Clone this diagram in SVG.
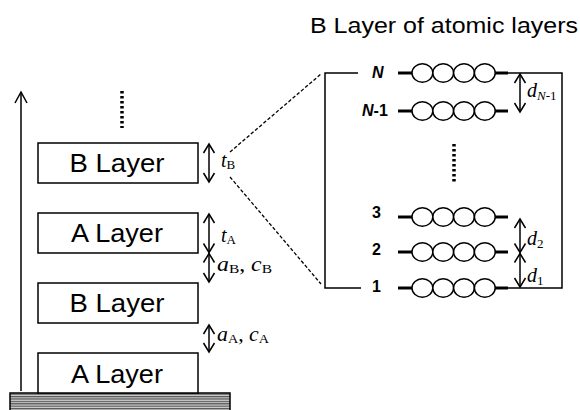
<svg xmlns="http://www.w3.org/2000/svg" xmlns:xlink="http://www.w3.org/1999/xlink" width="580" height="410" viewBox="0 0 580 410">
<style>
.ln{fill:none;stroke:#000;stroke-width:1.5}
.box{fill:#fff;stroke:#000;stroke-width:1.5}
.dash{fill:none;stroke:#000;stroke-width:1.3;stroke-dasharray:3.5 2}
.dots{fill:none;stroke:#000;stroke-width:3.5;stroke-dasharray:2.6 2.4}
.dbl{fill:none;stroke:#000;stroke-width:1.5;marker-start:url(#ah);marker-end:url(#ah)}
.lbl{font-family:"Liberation Sans",Arial,sans-serif;font-size:25px;fill:#000}
.ttl{font-family:"Liberation Sans",Arial,sans-serif;font-size:22px;fill:#000}
.num{font-family:"Liberation Sans",Arial,sans-serif;font-size:16px;font-weight:bold;fill:#000}
.m{font-family:"Liberation Serif","Times New Roman",serif;font-size:20px;fill:#000}
.it{font-style:italic}
.sub{font-size:13px}
.thick{stroke:#000;stroke-width:3}
.bead{fill:#fff;stroke:#000;stroke-width:1.5}
</style>
<defs>
<marker id="ah" markerUnits="userSpaceOnUse" viewBox="-11 -7 13 14" refX="0" refY="0" markerWidth="13" markerHeight="14" orient="auto-start-reverse">
<path d="M-9,-5.5 L0,0 L-9,5.5" fill="none" stroke="#000" stroke-width="1.5"/>
</marker>
<pattern id="stripes" patternUnits="userSpaceOnUse" width="8" height="2.4">
<rect x="0" y="0" width="8" height="2.4" fill="#d0d0d0"/>
<rect x="0" y="0" width="8" height="1.2" fill="#555"/>
</pattern>
<g id="chain">
<line class="thick" x1="398" y1="0" x2="412" y2="0"/>
<line class="thick" x1="495" y1="0" x2="508" y2="0"/>
<ellipse class="bead" cx="422.4" cy="0" rx="10.4" ry="9.2"/>
<ellipse class="bead" cx="443.2" cy="0" rx="10.4" ry="9.2"/>
<ellipse class="bead" cx="464" cy="0" rx="10.4" ry="9.2"/>
<ellipse class="bead" cx="484.8" cy="0" rx="10.4" ry="9.2"/>
</g>
</defs>
<rect width="580" height="410" fill="#fff"/>

<text id="title" class="ttl" x="310" y="33" textLength="268" lengthAdjust="spacingAndGlyphs">B Layer of atomic layers</text>

<g id="substrate">
<rect x="10" y="393" width="220" height="20" fill="url(#stripes)" stroke="#000" stroke-width="1.5"/>
</g>

<g id="growth-axis">
<line class="ln" x1="21" y1="391" x2="21" y2="93"/>
<path class="ln" d="M15,103 L21,92 L27,103"/>
</g>

<g id="layer-B-top">
<rect class="box" x="38" y="143" width="160" height="40"/>
<text class="lbl" x="117" y="172" text-anchor="middle" textLength="95" lengthAdjust="spacingAndGlyphs">B Layer</text>
</g>
<g id="layer-A-2">
<rect class="box" x="38" y="213" width="160" height="40"/>
<text class="lbl" x="117" y="242" text-anchor="middle" textLength="92" lengthAdjust="spacingAndGlyphs">A Layer</text>
</g>
<g id="layer-B-1">
<rect class="box" x="38" y="283" width="160" height="40"/>
<text class="lbl" x="117" y="312" text-anchor="middle" textLength="95" lengthAdjust="spacingAndGlyphs">B Layer</text>
</g>
<g id="layer-A-1">
<rect class="box" x="38" y="353" width="160" height="40"/>
<text class="lbl" x="117" y="383" text-anchor="middle" textLength="92" lengthAdjust="spacingAndGlyphs">A Layer</text>
</g>

<g id="left-dots">
<line class="dots" x1="122" y1="91" x2="122" y2="128"/>
</g>

<g id="dimension-labels">
<text class="m" x="221" y="167"><tspan class="it">t</tspan><tspan class="sub" dy="2">B</tspan></text>
<text class="m" x="221" y="242"><tspan class="it">t</tspan><tspan class="sub" dy="2">A</tspan></text>
<text class="m" x="217" y="271" textLength="55" lengthAdjust="spacingAndGlyphs"><tspan class="it">a</tspan><tspan class="sub" dy="2">B</tspan><tspan dy="-2">, </tspan><tspan class="it">c</tspan><tspan class="sub" dy="2">B</tspan></text>
<text class="m" x="217" y="341" textLength="52" lengthAdjust="spacingAndGlyphs"><tspan class="it">a</tspan><tspan class="sub" dy="2">A</tspan><tspan dy="-2">, </tspan><tspan class="it">c</tspan><tspan class="sub" dy="2">A</tspan></text>
<text class="m" x="527" y="97"><tspan class="it">d</tspan><tspan class="sub" dy="3"><tspan class="it">N</tspan>-1</tspan></text>
<text class="m" x="527" y="245"><tspan class="it">d</tspan><tspan class="sub" dy="3">2</tspan></text>
<text class="m" x="527" y="282"><tspan class="it">d</tspan><tspan class="sub" dy="3">1</tspan></text>
</g>

<g id="atomic-rows">
<text class="num" x="372" y="78"><tspan font-style="italic">N</tspan></text>
<use xlink:href="#chain" href="#chain" y="73"/>
<text class="num" x="362" y="116"><tspan font-style="italic">N</tspan>-1</text>
<use xlink:href="#chain" href="#chain" y="111"/>
<text class="num" x="372" y="218">3</text>
<use xlink:href="#chain" href="#chain" y="217"/>
<text class="num" x="372" y="255">2</text>
<use xlink:href="#chain" href="#chain" y="252"/>
<text class="num" x="372" y="292">1</text>
<use xlink:href="#chain" href="#chain" y="288"/>
<line class="dots" x1="454" y1="144" x2="454" y2="182"/>
</g>

<g id="connectors">
<line class="dbl" x1="209" y1="144" x2="209" y2="182"/>
<line class="dbl" x1="209" y1="214" x2="209" y2="252.5"/>
<line class="dbl" x1="209" y1="253.5" x2="209" y2="282"/>
<line class="dbl" x1="209" y1="325" x2="209" y2="352"/>
<line class="dbl" x1="520" y1="74" x2="520" y2="112"/>
<line class="dbl" x1="520" y1="219" x2="520" y2="252.5"/>
<line class="dbl" x1="520" y1="253.5" x2="520" y2="287"/>
<line class="dash" x1="230" y1="152" x2="321" y2="74"/>
<line class="dash" x1="230" y1="177" x2="321" y2="284"/>
<path class="ln" d="M358,73 L325,73 L325,288 L361,288"/>
<path class="ln" d="M508,73 L562,73 L562,288 L508,288"/>
</g>
</svg>
